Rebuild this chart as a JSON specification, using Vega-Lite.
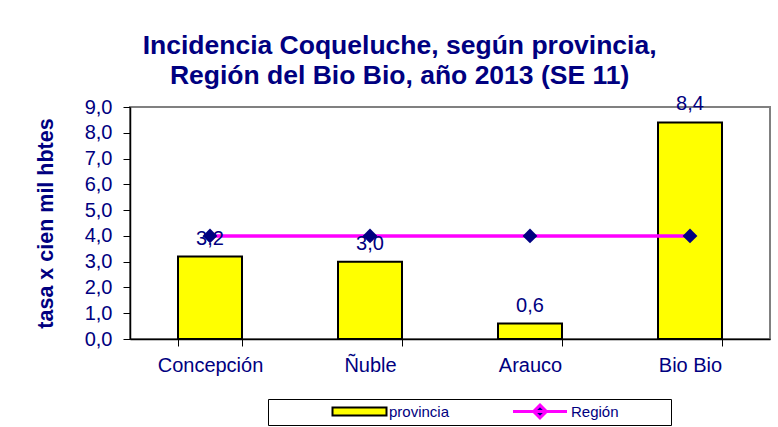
{
  "$schema": "https://vega.github.io/schema/vega-lite/v6.json",
  "width": 640,
  "height": 232,
  "autosize": {"type": "none"},
  "padding": {"left": 130, "top": 107, "right": 8, "bottom": 88},
  "background": "white",
  "config": {
    "locale": {"number": {"decimal": ",", "thousands": ".", "grouping": [3], "currency": ["$", ""]}},
    "font": "Liberation Sans",
    "view": {"stroke": "#808080", "strokeWidth": 2},
    "axisY": {
      "titleFont": "Liberation Sans",
      "titleFontSize": 21.5,
      "titleFontWeight": "bold",
      "titleColor": "#000080",
      "titlePadding": 27,
      "labelOverlap": false,
      "grid": false,
      "domainColor": "black",
      "domainWidth": 1.5,
      "tickColor": "black",
      "tickSize": 7,
      "labelPadding": 11,
      "labelColor": "#000080",
      "labelFontSize": 20,
      "labelFont": "Liberation Sans"
    }
  },
  "title": {
    "text": ["Incidencia Coqueluche, según provincia,", "Región del Bio Bio, año 2013 (SE 11)"],
    "font": "Liberation Sans",
    "fontSize": 26.5,
    "fontWeight": "bold",
    "color": "#000080",
    "anchor": "middle",
    "frame": "bounds",
    "baseline": "alphabetic",
    "lineHeight": 30,
    "offset": -16,
    "dx": -3
  },
  "data": {
    "values": [
      {"provincia": "Concepción", "tasa": 3.2, "region": 4.0},
      {"provincia": "Ñuble", "tasa": 3.0, "region": 4.0},
      {"provincia": "Arauco", "tasa": 0.6, "region": 4.0},
      {"provincia": "Bio Bio", "tasa": 8.4, "region": 4.0}
    ]
  },
  "encoding": {
    "x": {
      "field": "provincia",
      "type": "nominal",
      "sort": null,
      "scale": {"paddingInner": 0.6, "paddingOuter": 0.3},
      "axis": {
        "title": null,
        "labelAngle": 0,
        "tickBand": "extent",
        "domainColor": "black",
        "domainWidth": 1.5,
        "tickColor": "black",
        "tickSize": 7,
        "labelPadding": 9,
        "labelColor": "#000080",
        "labelFontSize": 20,
        "labelFont": "Liberation Sans"
      }
    }
  },
  "layer": [
    {
      "mark": {"type": "bar", "stroke": "black", "strokeWidth": 2},
      "encoding": {
        "y": {
          "field": "tasa",
          "type": "quantitative",
          "scale": {"domain": [0, 9], "nice": false},
          "axis": {"title": "tasa x cien mil hbtes", "values": [0, 1, 2, 3, 4, 5, 6, 7, 8, 9], "format": ".1f"}
        },
        "fill": {
          "datum": "provincia",
          "type": "nominal",
          "scale": {"domain": ["provincia"], "range": ["#FFFF00"]},
          "legend": {
            "title": "....................................",
            "titleOrient": "right",
            "titleFont": "DejaVu Sans Mono",
            "titleFontSize": 10,
            "titleFontWeight": "normal",
            "titleColor": "white",
            "titleOpacity": 0,
            "titlePadding": 0,
            "titleLimit": 400,
            "orient": "none",
            "legendX": 138,
            "legendY": 292,
            "padding": 5,
            "strokeColor": "black",
            "symbolType": "M-6.75,-1H6.75V1H-6.75Z",
            "symbolSize": 64,
            "symbolStrokeColor": "black",
            "symbolStrokeWidth": 2,
            "symbolOffset": 79,
            "labelOffset": 22,
            "labelFont": "Liberation Sans",
            "labelFontSize": 15,
            "labelColor": "#000080"
          }
        }
      }
    },
    {
      "mark": {"type": "line", "strokeWidth": 3.5},
      "encoding": {
        "y": {
          "field": "region",
          "type": "quantitative",
          "axis": {"title": "tasa x cien mil hbtes", "values": [0, 1, 2, 3, 4, 5, 6, 7, 8, 9], "format": ".1f"}
        },
        "stroke": {
          "datum": "Región",
          "type": "nominal",
          "scale": {"domain": ["Región"], "range": ["#FF00FF"]},
          "legend": {
            "title": null,
            "orient": "none",
            "legendX": 383,
            "legendY": 297,
            "padding": 0,
            "symbolType": "M-6.75,0H6.75M0,-1.6L1.6,0L0,1.6L-1.6,0Z",
            "symbolSize": 64,
            "symbolFillColor": "#000080",
            "symbolStrokeWidth": 3,
            "symbolOffset": 19.5,
            "labelOffset": 23.5,
            "labelFont": "Liberation Sans",
            "labelFontSize": 15,
            "labelColor": "#000080"
          }
        }
      }
    },
    {
      "mark": {"type": "point", "shape": "diamond", "filled": true, "color": "#000080", "size": 220, "opacity": 1},
      "encoding": {
        "y": {
          "field": "region",
          "type": "quantitative",
          "axis": {"title": "tasa x cien mil hbtes", "values": [0, 1, 2, 3, 4, 5, 6, 7, 8, 9], "format": ".1f"}
        }
      }
    },
    {
      "mark": {"type": "text", "dy": -12, "baseline": "alphabetic", "font": "Liberation Sans", "fontSize": 20, "color": "#000080"},
      "encoding": {
        "y": {
          "field": "tasa",
          "type": "quantitative",
          "axis": {"title": "tasa x cien mil hbtes", "values": [0, 1, 2, 3, 4, 5, 6, 7, 8, 9], "format": ".1f"}
        },
        "text": {"field": "tasa", "type": "quantitative", "format": ".1f"}
      }
    }
  ]
}
